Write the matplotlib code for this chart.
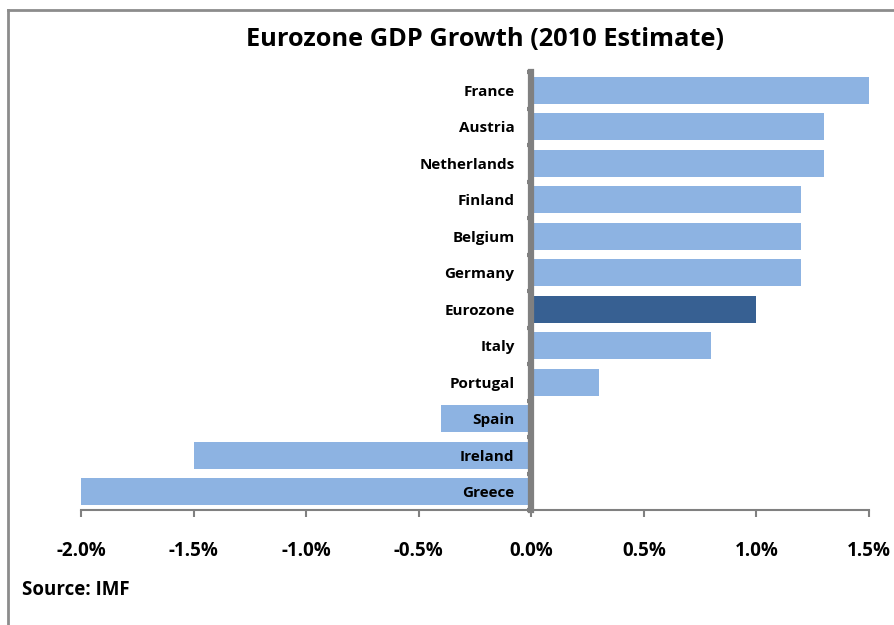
import numpy as np
import matplotlib.pyplot as plt
from matplotlib.lines import Line2D
from matplotlib.ticker import FuncFormatter

plt.rcParams['font.family'] = ['Open Sans', 'DejaVu Sans']

countries = ['France', 'Austria', 'Netherlands', 'Finland', 'Belgium', 'Germany',
             'Eurozone', 'Italy', 'Portugal', 'Spain', 'Ireland', 'Greece']
growth = [1.5, 1.3, 1.3, 1.2, 1.2, 1.2, 1.0, 0.8, 0.3, -0.4, -1.5, -2.0]
x_ticks = [-2.0, -1.5, -1.0, -0.5, 0.0, 0.5, 1.0, 1.5]

light = '#8db3e2'
dark = '#376092'
axis_grey = '#808080'

fig = plt.figure(figsize=(8.94, 6.25), dpi=100)
ax = fig.add_axes([81 / 894, 1 - 510 / 625, (869 - 81) / 894, (510 - 72) / 625])

y = np.arange(len(countries))
colors = [dark if c == 'Eurozone' else light for c in countries]
ax.barh(y, growth, height=0.74, color=colors, zorder=1)

ax.set_xlim(-2.0, 1.5)
ax.set_ylim(len(countries) - 0.5, -0.5)

# category axis sits at zero
ax.spines['left'].set_position(('data', 0))
ax.spines['left'].set_color(axis_grey)
ax.spines['left'].set_linewidth(4.5)
ax.spines['bottom'].set_color(axis_grey)
ax.spines['bottom'].set_linewidth(1.5)
ax.spines['top'].set_visible(False)
ax.spines['right'].set_visible(False)

ax.set_yticks(y)
ax.set_yticklabels(countries, fontsize=11, fontweight='bold')
ax.tick_params(axis='y', which='major', length=0, pad=12)
ax.set_yticks(np.arange(len(countries) + 1) - 0.5, minor=True)
ax.tick_params(axis='y', which='minor', length=3, width=3, color=axis_grey, direction='out')

ax.set_xticks(x_ticks)
ax.xaxis.set_major_formatter(FuncFormatter(lambda v, p: f'{v:.1f}%'))
ax.tick_params(axis='x', length=5, width=1.5, color=axis_grey, pad=17, labelsize=13.5)
for lab in ax.get_xticklabels():
    lab.set_fontweight('bold')

fig.text(485 / 894, 1 - 40 / 625, 'Eurozone GDP Growth (2010 Estimate)', ha='center', va='center',
         fontsize=18.3, fontweight='bold')
fig.text(22 / 894, 1 - 590 / 625, 'Source: IMF', ha='left', va='center',
         fontsize=13.5, fontweight='bold')

# chart area border (left and top edges)
fig.add_artist(Line2D([7.5 / 894, 7.5 / 894], [0, 1 - 10 / 625], color='#8c8c8c', lw=2))
fig.add_artist(Line2D([7.5 / 894, 1], [1 - 10 / 625, 1 - 10 / 625], color='#8c8c8c', lw=2))

fig.savefig('out.png', dpi=100)
